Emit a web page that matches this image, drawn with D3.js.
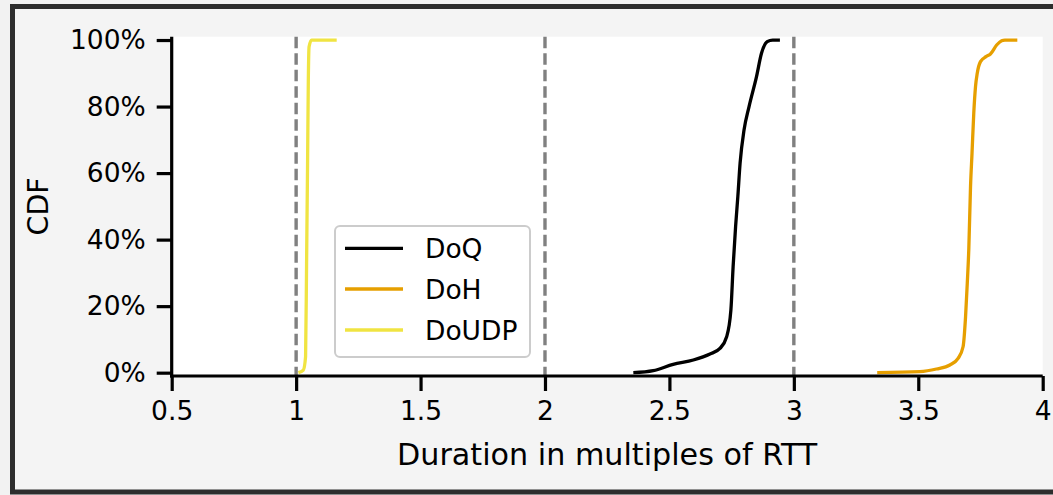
<!DOCTYPE html>
<html>
<head>
<meta charset="utf-8">
<script src="https://cdn.jsdelivr.net/npm/d3@7"></script>
<style>
  html, body { margin: 0; padding: 0; background: #f4f4f4; }
  svg { display: block; }
  text { font-family: "DejaVu Sans", sans-serif; fill: #000; }
</style>
</head>
<body>
<svg id="chart" width="1053" height="495"></svg>
<script>
// ---- data ----
const seriesNames = ["DoQ", "DoH", "DoUDP"];
const seriesColors = ["#000000", "#e69f00", "#f0e442"];

const doqX = [2.355, 2.435, 2.515, 2.596, 2.663, 2.703, 2.730, 2.747, 2.756, 2.766, 2.775, 2.784, 2.800, 2.820, 2.850, 2.870, 2.893, 2.915, 2.944];
const doqY = [0, 0.006, 0.025, 0.038, 0.056, 0.073, 0.108, 0.188, 0.319, 0.44, 0.53, 0.63, 0.73, 0.80, 0.89, 0.96, 0.995, 1.0, 1.0];

const dohX = [3.335, 3.506, 3.573, 3.627, 3.660, 3.680, 3.690, 3.697, 3.703, 3.710, 3.716, 3.723, 3.730, 3.737, 3.750, 3.772, 3.790, 3.815, 3.835, 3.848, 3.898];
const dohY = [0, 0.003, 0.011, 0.023, 0.043, 0.078, 0.168, 0.27, 0.37, 0.56, 0.66, 0.78, 0.86, 0.90, 0.935, 0.95, 0.958, 0.985, 0.998, 1.0, 1.0];

const doudpX = [1.009, 1.029, 1.038, 1.042, 1.046, 1.049, 1.052, 1.062, 1.163];
const doudpY = [0, 0.008, 0.048, 0.33, 0.63, 0.88, 0.98, 1.0, 1.0];

const refLines = [1, 2, 3];
const xTicks = [0.5, 1, 1.5, 2, 2.5, 3, 3.5, 4];
const xTickLabels = ["0.5", "1", "1.5", "2", "2.5", "3", "3.5", "4"];
const yTicks = [0, 0.2, 0.4, 0.6, 0.8, 1.0];
const yTickLabels = ["0%", "20%", "40%", "60%", "80%", "100%"];
const xLabel = "Duration in multiples of RTT";
const yLabel = "CDF";

// ---- layout ----
const svg = d3.select("#chart");
const L = 171.7, R = 1042.7, T = 36.7, B = 376;
const x = d3.scaleLinear().domain([0.5, 4]).range([L, R]);
const y = d3.scaleLinear().domain([-0.01, 1.01]).range([B, T]);

// frame
svg.append("rect").attr("x", 0).attr("y", 0).attr("width", 1053).attr("height", 495).attr("fill", "#f2f2f2");
svg.append("rect").attr("x", 12.5).attr("y", 6.5).attr("width", 1060).attr("height", 485.5)
  .attr("fill", "#f4f4f4").attr("stroke", "#2d2d2d").attr("stroke-width", 5);

// axes background
svg.append("rect").attr("x", L).attr("y", T).attr("width", R - L).attr("height", B - T).attr("fill", "#ffffff");

// reference dashed lines
svg.append("g").selectAll("line").data(refLines).join("line")
  .attr("x1", d => x(d)).attr("x2", d => x(d))
  .attr("y1", T).attr("y2", B)
  .attr("stroke", "#808080").attr("stroke-width", 3.4)
  .attr("stroke-dasharray", "11.5,5");

// series
const seriesData = [
  doqX.map((v, i) => [v, doqY[i]]),
  dohX.map((v, i) => [v, dohY[i]]),
  doudpX.map((v, i) => [v, doudpY[i]])
];
const line = d3.line().x(d => x(d[0])).y(d => y(d[1])).curve(d3.curveMonotoneX);
svg.append("g").selectAll("path").data(seriesData).join("path")
  .attr("d", line).attr("fill", "none")
  .attr("stroke", (d, i) => seriesColors[i]).attr("stroke-width", 3.3)
  .attr("stroke-linejoin", "round").attr("stroke-linecap", "butt");

// axes
const fs = 26.5;
const xAxis = svg.append("g").attr("transform", `translate(0,${B})`)
  .call(d3.axisBottom(x).tickValues(xTicks).tickFormat((d, i) => xTickLabels[i]).tickSize(15).tickPadding(10).tickSizeOuter(0));
const yAxis = svg.append("g").attr("transform", `translate(${L},0)`)
  .call(d3.axisLeft(y).tickValues(yTicks).tickFormat((d, i) => yTickLabels[i]).tickSize(15).tickPadding(11).tickSizeOuter(0));
[xAxis, yAxis].forEach(g => {
  g.select(".domain").attr("stroke", "#000").attr("stroke-width", 3.2);
  g.selectAll(".tick line").attr("stroke", "#000").attr("stroke-width", 3.2);
  g.selectAll(".tick text").attr("font-size", fs).attr("font-family", "DejaVu Sans").attr("fill", "#000");
});
xAxis.select(".domain").attr("d", `M${L - 1.6},0H${R}`);
yAxis.select(".domain").attr("d", `M0,${B + 1.6}V${T}`);

// axis labels
svg.append("text").attr("x", (L + R) / 2).attr("y", 465).attr("text-anchor", "middle")
  .attr("font-size", 30.2).text(xLabel);
svg.append("text").attr("transform", `translate(48,${(T + B) / 2}) rotate(-90)`)
  .attr("text-anchor", "middle").attr("font-size", 28.5).text(yLabel);

// legend
const lg = svg.append("g");
lg.append("rect").attr("x", 335).attr("y", 226).attr("width", 195).attr("height", 131)
  .attr("rx", 5).attr("fill", "#ffffff").attr("fill-opacity", 0.8)
  .attr("stroke", "#cccccc").attr("stroke-width", 2);
const rowsY = [248.3, 289, 330];
seriesNames.forEach((name, i) => {
  lg.append("line").attr("x1", 345).attr("x2", 403).attr("y1", rowsY[i]).attr("y2", rowsY[i])
    .attr("stroke", seriesColors[i]).attr("stroke-width", 3.3);
  lg.append("text").attr("x", 425).attr("y", rowsY[i]).attr("dy", "0.36em")
    .attr("font-size", fs).text(name);
});
</script>
</body>
</html>
